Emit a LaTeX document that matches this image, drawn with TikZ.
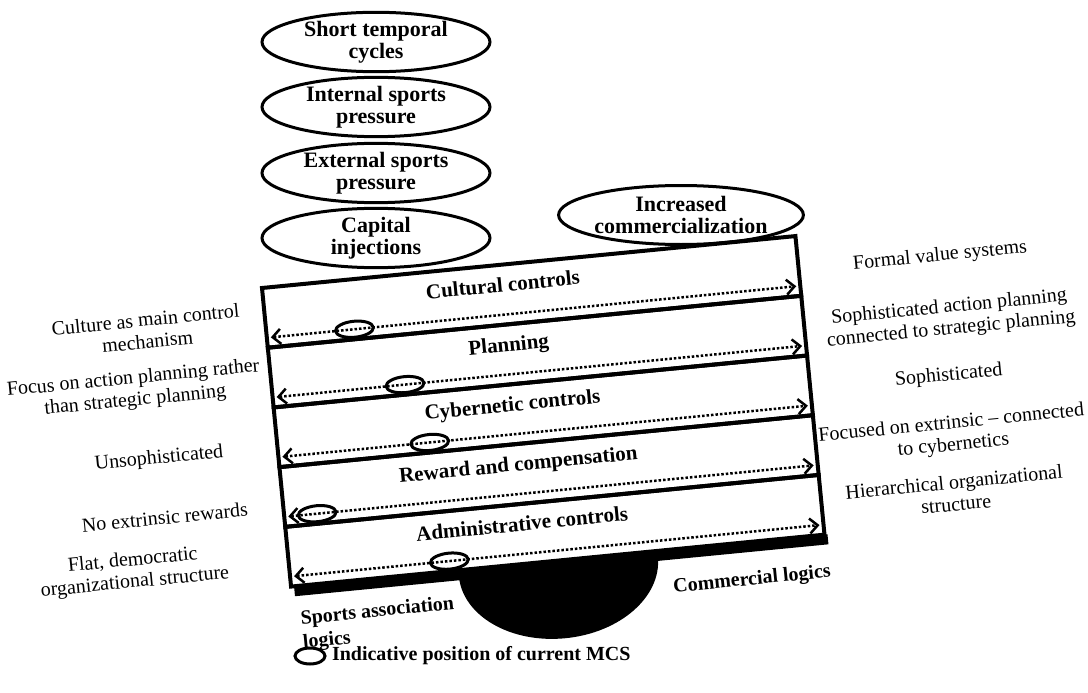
\documentclass[tikz,border=0pt]{standalone}
\usepackage{fontspec}
\setmainfont{Liberation Serif}
\usetikzlibrary{shapes.geometric, arrows.meta, positioning}

\tikzset{
  factor/.style={draw, ellipse, line width=3pt, minimum width=228pt, minimum height=59pt,
    inner sep=0pt, align=center, font=\fontsize{22}{22}\selectfont\bfseries},
  band/.style={draw, line width=4pt, minimum width=536pt, minimum height=60pt,
    inner sep=0pt, outer sep=0pt, anchor=north west},
  title/.style={anchor=base, font=\fontsize{21}{24}\selectfont\bfseries},
  side/.style={align=center, font=\fontsize{20}{22}\selectfont},
  scalearrow/.style={line width=2.5pt, dash pattern=on 2.5pt off 2pt,
    {Straight Barb[length=8pt,width=15pt,line width=2.5pt]}-{Straight Barb[length=8pt,width=15pt,line width=2.5pt]}},
  mcs/.style={draw, ellipse, line width=3pt, minimum width=38pt, minimum height=16pt, inner sep=0pt},
  logic/.style={align=left, font=\fontsize{20}{24}\selectfont\bfseries}
}

\begin{document}
\begin{tikzpicture}[x=1pt, y=-1pt]
\useasboundingbox (0,0) rectangle (1088,693);

% pressures on the sports side
\node[factor] (short) at (376,42) {Short temporal\\cycles};
\node[factor] (internal) at (376,107) {Internal sports\\pressure};
\node[factor] (external) at (376,173) {External sports\\pressure};
\node[factor] (capital) at (376,238) {Capital\\injections};
% pressure on the commercial side
\node[factor, minimum width=232pt] (commerce) at (681,215) {Increased\\commercialization};

% the tilted scale
\begin{scope}[shift={(262,288)}, rotate=5.56, transform shape]

\fill (3,300) rectangle (539,310);
\fill (168,306) arc (180:0:100 and 72) -- cycle;

\node[band] (cult) at (0,0) {};
\node[band] (plan) at (0,60) {};
\node[band] (cyb) at (0,120) {};
\node[band] (rew) at (0,180) {};
\node[band] (adm) at (0,240) {};

\node[title] (tcult) at (240,27) {Cultural controls};
\node[title] (tplan) at (240,87) {Planning};
\node[title] (tcyb) at (238,147) {Cybernetic controls};
\node[title] (trew) at (238,207) {Reward and compensation};
\node[title] (tadm) at (236,267) {Administrative controls};

\coordinate (cult-l) at (4,50);
\coordinate (cult-r) at (532,50);
\coordinate (plan-l) at (4,110);
\coordinate (plan-r) at (532,110);
\coordinate (cyb-l) at (4,170);
\coordinate (cyb-r) at (532,170);
\coordinate (rew-l) at (4,230);
\coordinate (rew-r) at (532,230);
\coordinate (adm-l) at (4,290);
\coordinate (adm-r) at (532,290);

\draw[scalearrow] (cult-l) -- (cult-r);
\draw[scalearrow] (plan-l) -- (plan-r);
\draw[scalearrow] (cyb-l) -- (cyb-r);
\draw[scalearrow] (rew-l) -- (rew-r);
\draw[scalearrow] (adm-l) -- (adm-r);

% current MCS on each control
\node[mcs] (mcult) at (88,50) {};
\node[mcs] (mplan) at (133,110) {};
\node[mcs] (mcyb) at (152,170) {};
\node[mcs] (mrew) at (33,230) {};
\node[mcs] (madm) at (160,290) {};

% sports association end
\node[side] (lcult) at (-119,31) {Culture as main control\\mechanism};
\node[side] (lplan) at (-137,89) {Focus on action planning rather\\than strategic planning};
\node[side] (lcyb) at (-119,160) {Unsophisticated};
\node[side] (lrew) at (-119,219) {No extrinsic rewards};
\node[side] (ladm) at (-155,270) {Flat, democratic\\organizational structure};

% commercial end
\node[side] (rcult) at (678,34) {Formal value systems};
\node[side] (rplan) at (682,97) {Sophisticated action planning\\connected to strategic planning};
\node[side] (rcyb) at (675,154) {Sophisticated};
\node[side] (rrew) at (673,213) {Focused on extrinsic -- connected\\to cybernetics};
\node[side] (radm) at (670,271) {Hierarchical organizational\\structure};

\node[logic, anchor=north west] (sports) at (3,321) {Sports association\\logics};
\node[logic, anchor=base west] (commercial) at (377,343) {Commercial logics};
\end{scope}

% legend
\node[mcs, minimum width=30pt] (key) at (310,656) {};
\node[right=2pt of key, font=\fontsize{20}{24}\selectfont\bfseries] (keytext) {Indicative position of current MCS};
\end{tikzpicture}
\end{document}
